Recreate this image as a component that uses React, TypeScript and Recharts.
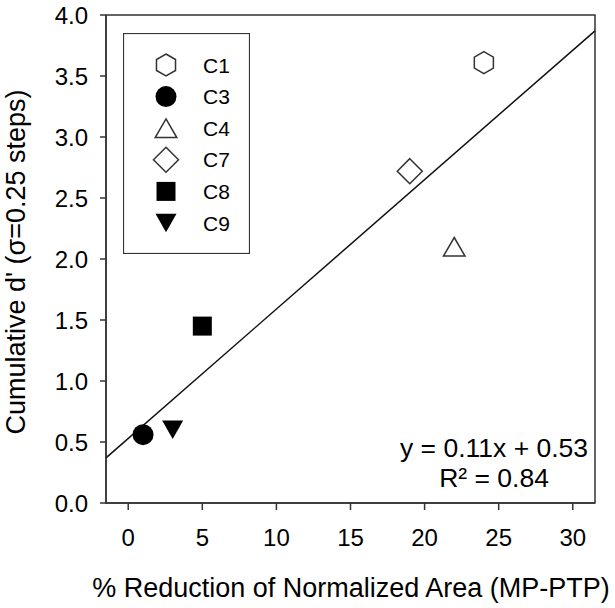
import React from 'react';
import {
  ScatterChart, Scatter, XAxis, YAxis, ReferenceLine, ReferenceArea, Legend, Customized,
} from 'recharts';

const FONT = '"Liberation Sans", Arial, sans-serif';

const seriesNames = ['C1', 'C3', 'C4', 'C7', 'C8', 'C9'];
const markerKinds = ['hexagon', 'circle', 'triangle', 'diamond', 'square', 'triangleDown'];
const xValues = [24, 1, 22, 19, 5, 3];
const yValues = [3.61, 0.56, 2.1, 2.72, 1.45, 0.6];

const fitX = [-1.5, 31.5];
const fitY = [0.37, 3.87];

const xTicks = [0, 5, 10, 15, 20, 25, 30];
const yTicks = [0, 0.5, 1, 1.5, 2, 2.5, 3, 3.5, 4];
const xDomain = [-1.5, 31.5];
const yDomain = [0, 4];

const equationText = 'y = 0.11x + 0.53';
const r2Text = 'R\u00b2 = 0.84';
const xLabel = '% Reduction of Normalized Area (MP-PTP)';
const yLabel = "Cumulative d' (\u03c3=0.25 steps)";

const STROKE = '#333';

function Marker({ kind, cx, cy }: { kind: string; cx: number; cy: number }) {
  if (cx == null || cy == null) return null;
  switch (kind) {
    case 'hexagon': {
      const R = 11;
      const pts = [-90, -30, 30, 90, 150, 210]
        .map((a) => {
          const r = (a * Math.PI) / 180;
          return `${cx + R * Math.cos(r)},${cy + R * Math.sin(r)}`;
        })
        .join(' ');
      return <polygon points={pts} fill="#fff" stroke={STROKE} strokeWidth={1.5} />;
    }
    case 'circle':
      return <circle cx={cx} cy={cy} r={10.5} fill="#000" />;
    case 'triangle':
      return (
        <polygon
          points={`${cx},${cy - 9.3} ${cx + 10.8},${cy + 9.3} ${cx - 10.8},${cy + 9.3}`}
          fill="#fff"
          stroke={STROKE}
          strokeWidth={1.5}
        />
      );
    case 'diamond':
      return (
        <polygon
          points={`${cx},${cy - 12.5} ${cx + 12.5},${cy} ${cx},${cy + 12.5} ${cx - 12.5},${cy}`}
          fill="#fff"
          stroke={STROKE}
          strokeWidth={1.5}
        />
      );
    case 'square':
      return <rect x={cx - 9.5} y={cy - 9.5} width={19} height={19} fill="#000" />;
    case 'triangleDown':
      return (
        <polygon
          points={`${cx - 10.5},${cy - 9.3} ${cx + 10.5},${cy - 9.3} ${cx},${cy + 9.3}`}
          fill="#000"
        />
      );
    default:
      return null;
  }
}

const seriesData = seriesNames.map((name, i) => ({
  name,
  kind: markerKinds[i],
  data: [{ x: xValues[i], y: yValues[i] }],
}));

function LegendBox() {
  return (
    <svg width={127} height={221} style={{ display: 'block' }}>
      <rect x={0.5} y={0.5} width={126} height={220} fill="#fff" stroke={STROKE} strokeWidth={1.2} />
      {seriesData.map((s, i) => {
        const cy = 32 + i * 31.6;
        return (
          <g key={s.name}>
            <Marker kind={s.kind} cx={43} cy={cy} />
            <text x={80} y={cy} dy="0.36em" fontFamily={FONT} fontSize={21} fill="#000">
              {s.name}
            </text>
          </g>
        );
      })}
    </svg>
  );
}

function Texts() {
  return (
    <g fontFamily={FONT} fill="#000">
      <text x={494} y={457} textAnchor="middle" fontSize={26.5}>{equationText}</text>
      <text x={494} y={487} textAnchor="middle" fontSize={26.5}>{r2Text}</text>
      <text x={351} y={597} textAnchor="middle" fontSize={27}>{xLabel}</text>
      <text x={-262} y={25} transform="rotate(-90)" textAnchor="middle" fontSize={27}>{yLabel}</text>
    </g>
  );
}

export default function App() {
  const tickStyle = { fontFamily: FONT, fontSize: 24, fill: '#000' };
  return (
    <div style={{ position: 'absolute', left: 0, top: 0, background: '#fff' }}>
      <ScatterChart width={615} height={608} margin={{ top: 15, right: 20, bottom: 0, left: 0 }}>
        <XAxis
          type="number"
          dataKey="x"
          domain={xDomain}
          ticks={xTicks}
          allowDataOverflow
          height={105}
          tickSize={7}
          tickMargin={19}
          stroke={STROKE}
          strokeWidth={1.5}
          tick={tickStyle}
          interval={0}
        />
        <YAxis
          type="number"
          dataKey="y"
          domain={yDomain}
          ticks={yTicks}
          allowDataOverflow
          width={106}
          tickSize={6}
          tickMargin={12}
          stroke={STROKE}
          strokeWidth={1.5}
          tick={tickStyle}
          tickFormatter={(v: number) => v.toFixed(1)}
          interval={0}
        />
        <ReferenceArea
          x1={xDomain[0]}
          x2={xDomain[1]}
          y1={yDomain[0]}
          y2={yDomain[1]}
          fill="none"
          fillOpacity={0}
          stroke={STROKE}
          strokeWidth={1.5}
          ifOverflow="visible"
        />
        <ReferenceLine
          segment={[
            { x: fitX[0], y: fitY[0] },
            { x: fitX[1], y: fitY[1] },
          ]}
          stroke="#111"
          strokeWidth={1.5}
          ifOverflow="visible"
        />
        {seriesData.map((s) => (
          <Scatter
            key={s.name}
            name={s.name}
            data={s.data}
            isAnimationActive={false}
            shape={(p: any) => <Marker kind={s.kind} cx={p.cx} cy={p.cy} />}
          />
        ))}
        <Customized component={Texts} />
        <Legend
          layout="vertical"
          align="center"
          verticalAlign="middle"
          content={() => <LegendBox />}
          wrapperStyle={{ position: 'absolute', left: 123, top: 33, width: 127, height: 221 }}
        />
      </ScatterChart>
    </div>
  );
}
